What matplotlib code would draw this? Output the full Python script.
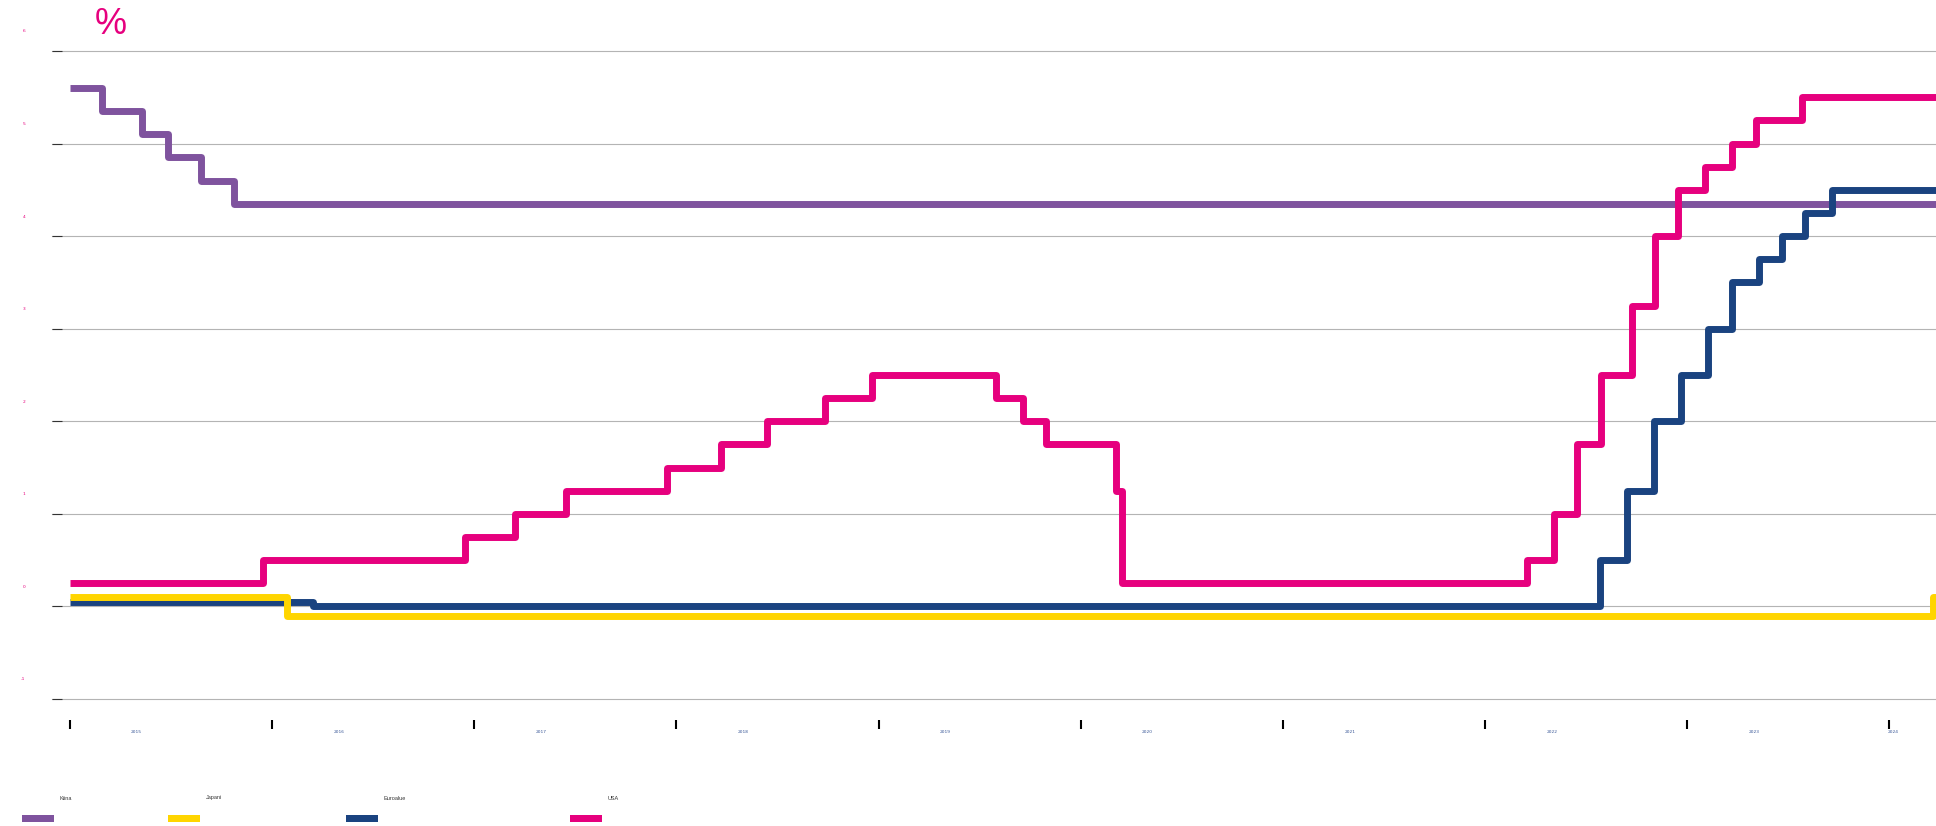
import matplotlib
matplotlib.use("Agg")
import matplotlib.pyplot as plt
import matplotlib.dates as mdates
from matplotlib.transforms import ScaledTranslation
from matplotlib.patches import Rectangle
import pandas as pd

# --- data: policy rates, % (step changes) ---
names = ["Kiina", "Japani", "Euroalue", "USA"]
colors = ["#7f539e", "#ffd500", "#1a4380", "#e6007e"]

china_dates = ["2015-01-01", "2015-03-01", "2015-05-11", "2015-06-28", "2015-08-26",
               "2015-10-24", "2024-03-25"]
china_rates = [5.60, 5.35, 5.10, 4.85, 4.60, 4.35, 4.35]

japan_dates = ["2015-01-01", "2016-01-29", "2024-03-19", "2024-03-25"]
japan_rates = [0.10, -0.10, 0.10, 0.10]

euro_dates = ["2015-01-01", "2016-03-16", "2022-07-27", "2022-09-14", "2022-11-02",
              "2022-12-21", "2023-02-08", "2023-03-22", "2023-05-10", "2023-06-21",
              "2023-08-02", "2023-09-20", "2024-03-25"]
euro_rates = [0.05, 0.00, 0.50, 1.25, 2.00, 2.50, 3.00, 3.50, 3.75, 4.00, 4.25, 4.50, 4.50]

usa_dates = ["2015-01-01", "2015-12-17", "2016-12-15", "2017-03-16", "2017-06-15",
             "2017-12-14", "2018-03-22", "2018-06-14", "2018-09-27", "2018-12-20",
             "2019-08-01", "2019-09-19", "2019-10-31", "2020-03-04", "2020-03-16",
             "2022-03-17", "2022-05-05", "2022-06-16", "2022-07-28", "2022-09-22",
             "2022-11-03", "2022-12-15", "2023-02-02", "2023-03-23", "2023-05-04",
             "2023-07-27", "2024-03-25"]
usa_rates = [0.25, 0.50, 0.75, 1.00, 1.25, 1.50, 1.75, 2.00, 2.25, 2.50, 2.25, 2.00,
             1.75, 1.25, 0.25, 0.50, 1.00, 1.75, 2.50, 3.25, 4.00, 4.50, 4.75, 5.00,
             5.25, 5.50, 5.50]

y_ticks = [-1, 0, 1, 2, 3, 4, 5, 6]
year_labels = ["2015", "2016", "2017", "2018", "2019", "2020", "2021", "2022", "2023", "2024"]
year_label_dates = ["2015-05-01", "2016-05-01", "2017-05-01", "2018-05-01", "2019-05-01",
                    "2020-05-01", "2021-05-01", "2022-05-01", "2023-05-01", "2024-01-08"]

# --- figure ---
fig = plt.figure(figsize=(19.36, 8.26), dpi=100)
ax = fig.add_axes([52 / 1936, 1 - 699 / 826, 1 - 52 / 1936, 648 / 826])

series = {
    "Kiina": (china_dates, china_rates),
    "Euroalue": (euro_dates, euro_rates),
    "Japani": (japan_dates, japan_rates),
    "USA": (usa_dates, usa_rates),
}
for name in ["Kiina", "Euroalue", "Japani", "USA"]:
    d, r = series[name]
    ax.step(pd.to_datetime(d), r, where="post", color=colors[names.index(name)],
            lw=5, solid_joinstyle="round", solid_capstyle="butt", zorder=3)

ax.set_xlim(pd.Timestamp("2014-11-30"), pd.Timestamp("2024-03-25"))
ax.set_ylim(-1, 6)

# y axis: gridlines with short dark ticks, tiny pink labels sitting above the line
ax.set_yticks(y_ticks)
ax.set_yticklabels([str(v) for v in y_ticks])
ax.yaxis.grid(True, color="#b4b4b4", lw=0.8, zorder=0)
for gl in ax.get_ygridlines():
    gl.set_clip_on(False)
ax.tick_params(axis="y", direction="in", length=7, width=0.8, color="#333333",
               labelsize=3.2, labelcolor="#e6007e", pad=19)
offset = ScaledTranslation(0, 0.2, fig.dpi_scale_trans)
for lbl in ax.get_yticklabels():
    lbl.set_transform(lbl.get_transform() + offset)

# x axis: year ticks detached below the plot, labels on minor positions
ax.xaxis.set_major_locator(mdates.YearLocator())
ax.xaxis.set_major_formatter(plt.NullFormatter())
ax.set_xticks(pd.to_datetime(year_label_dates), minor=True)
ax.set_xticklabels(year_labels, minor=True)
ax.tick_params(axis="x", which="major", direction="out", length=6.5, width=1.5, color="black")
ax.tick_params(axis="x", which="minor", length=0, pad=7, labelsize=3.2, labelcolor="#3b5998")
ax.spines["bottom"].set_position(("outward", 15))
for s in ax.spines.values():
    s.set_visible(False)
ax.set_facecolor("none")

# unit label
fig.text(111 / 1936, 1 - 24 / 826, "%", color="#e6007e", fontsize=26,
         family="Liberation Sans", ha="center", va="center")

# legend: swatch below, name above and to the right
legend_x = [22, 168, 346, 570]
for name, c, x in zip(names, colors, legend_x):
    fig.add_artist(Rectangle((x / 1936, 1 - 822 / 826), 32 / 1936, 7 / 826,
                             transform=fig.transFigure, color=c, lw=0))
    fig.text((x + 38) / 1936, 1 - 798 / 826, name, fontsize=4, color="#333333",
             family="Liberation Sans", ha="left", va="center")

fig.savefig("out.png", dpi=100)
